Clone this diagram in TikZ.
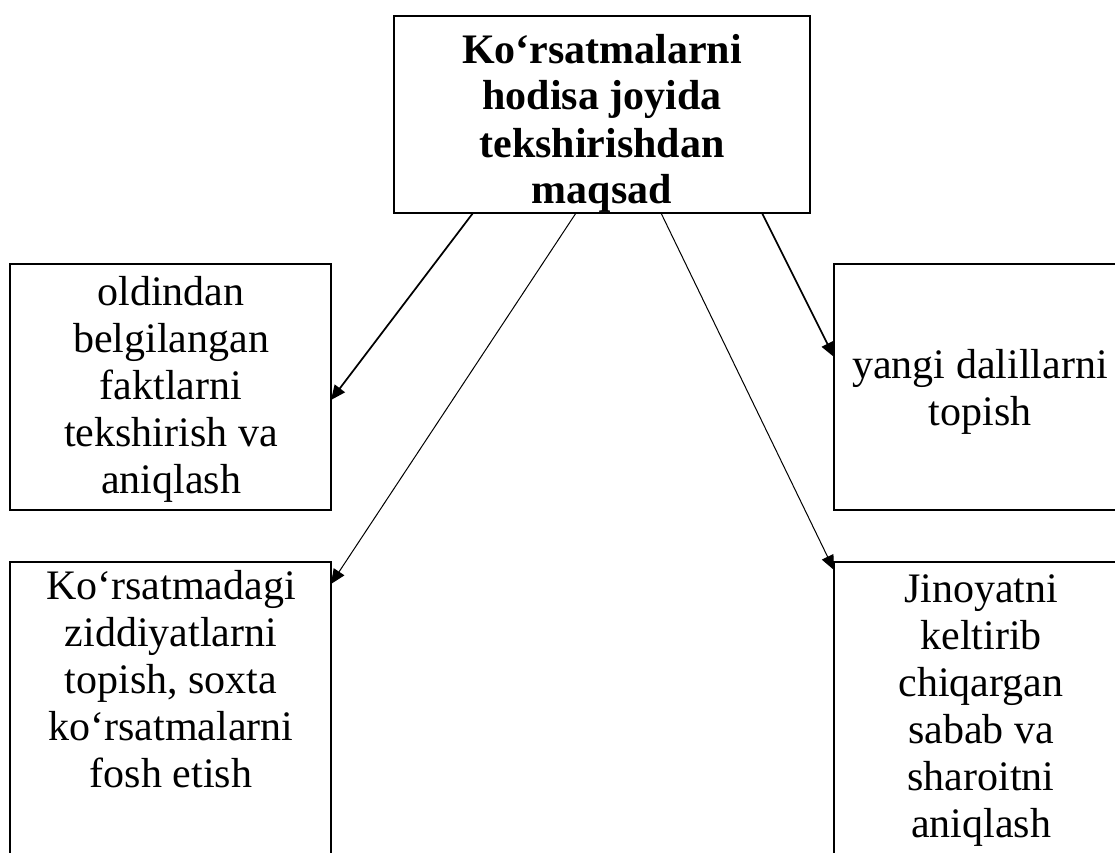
\documentclass[tikz,border=0pt]{standalone}
\usepackage{fontspec}
\setmainfont{Liberation Serif}
\usetikzlibrary{arrows.meta,calc}
\begin{document}
\begin{tikzpicture}[x=0.75pt,y=-0.75pt,
  box/.style={draw, line width=1.5pt, rectangle, inner sep=0pt, outer sep=0pt},
  txt/.style={anchor=base, inner sep=0pt, outer sep=0pt, font=\fontsize{31.5pt}{35.25pt}\selectfont},
  thickarrow/.style={line width=1.3pt, -{Triangle[length=11pt,width=9.5pt]}},
  thinarrow/.style={line width=0.75pt, -{Triangle[length=11pt,width=9.5pt]}}]
\useasboundingbox (0,0) rectangle (1115,853);
\clip (0,0) rectangle (1115,853);
\fill[white] (0,0) rectangle (1115,853);

% boxes
\node[box, minimum width=312pt, minimum height=147.75pt] (top) at (602,114.5) {};
\node[box, minimum width=240.75pt, minimum height=184.5pt] (lt) at (170.5,387) {};
\node[box, minimum width=219pt, minimum height=184.5pt] (rt) at (980,387) {};
\node[box, minimum width=240.75pt, minimum height=240pt] (lb) at (170.5,722) {};
\node[box, minimum width=219pt, minimum height=240pt] (rb) at (980,722) {};

% texts
\node[txt] (ttop) at (602,63) {\bfseries\begin{tabular}[t]{@{}c@{}}Ko‘rsatmalarni\\hodisa joyida\\tekshirishdan\\maqsad\end{tabular}};
\node[txt] (tlt) at (171,305) {\begin{tabular}[t]{@{}c@{}}oldindan\\belgilangan\\faktlarni\\tekshirish va\\aniqlash\end{tabular}};
\node[txt] (trt) at (980,378) {\begin{tabular}[t]{@{}c@{}}yangi dalillarni\\topish\end{tabular}};
\node[txt] (tlb) at (171,599) {\begin{tabular}[t]{@{}c@{}}Ko‘rsatmadagi\\ziddiyatlarni\\topish, soxta\\ko‘rsatmalarni\\fosh etish\end{tabular}};
\node[txt] (trb) at (981,602) {\begin{tabular}[t]{@{}c@{}}Jinoyatni\\keltirib\\chiqargan\\sabab va\\sharoitni\\aniqlash\end{tabular}};

% connectors
\draw[thickarrow] ($(top.south west)+(79,0)$) -- ($(lt.north east)+(0,136)$);
\draw[thinarrow] ($(top.south west)+(182,0)$) -- ($(lb.north east)+(0,22)$);
\draw[thinarrow] ($(top.south west)+(267,0)$) -- ($(rb.north west)+(0,8)$);
\draw[thickarrow] ($(top.south west)+(368,0)$) -- ($(rt.north west)+(0,93)$);
\end{tikzpicture}
\end{document}
